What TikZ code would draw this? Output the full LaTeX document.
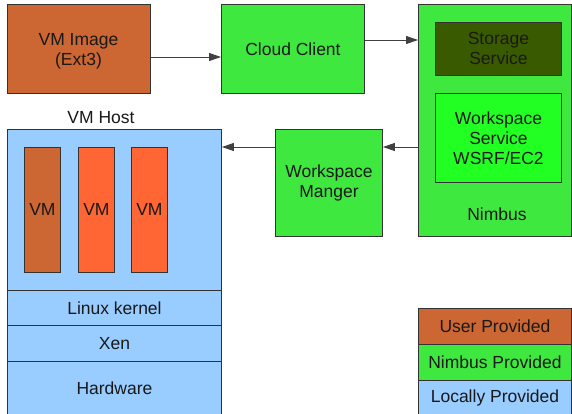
\documentclass[tikz,border=0pt]{standalone}
\usepackage{fontspec}
\setmainfont{Liberation Sans}
\usetikzlibrary{arrows.meta}
\definecolor{userc}{HTML}{CC6633}
\definecolor{vmc}{HTML}{FF6633}
\definecolor{nimc}{HTML}{3EE83E}
\definecolor{wsc}{HTML}{22FF22}
\definecolor{stc}{HTML}{3A5A00}
\definecolor{locc}{HTML}{99CCFF}
\definecolor{edgec}{HTML}{333333}
\begin{document}
\begin{tikzpicture}[x=1pt,y=-1pt,
  box/.style={draw=edgec, line width=0.9pt, anchor=north west, inner sep=0pt, align=center,
    font=\fontsize{17.5}{20}\selectfont, text=black!90},
  arr/.style={draw=black!75, line width=0.9pt, -{Triangle[length=12pt,width=8pt]}},
  txt/.style={font=\fontsize{17.5}{20}\selectfont, text=black!90, inner sep=0pt}]
\useasboundingbox (0,0) rectangle (572,413);
\node[box, fill=userc, minimum width=143pt, minimum height=89pt] (vmimage) at (7,4) {};
\node[txt, align=center] (vmimagetext) at (78.5,51) {VM Image\\(Ext3)};
\node[box, fill=nimc, minimum width=143pt, minimum height=89pt] (cloud) at (221,4) {Cloud Client};
\node[box, fill=nimc, minimum width=153pt, minimum height=232pt] (nimbus) at (418,4) {};
\node[box, fill=stc, minimum width=126pt, minimum height=53pt] (storage) at (435,22) {Storage\\Service};
\node[box, fill=wsc, minimum width=126pt, minimum height=89pt] (wss) at (435,93) {Workspace\\Service\\WSRF/EC2};
\node[txt] (nimbuslabel) at (497,214) {Nimbus};
\node[box, fill=nimc, minimum width=107pt, minimum height=107pt] (wsm) at (275,129) {Workspace\\Manger};
\node[box, fill=locc, minimum width=214pt, minimum height=161pt] (host) at (7,129) {};
\node[txt] (hostlabel) at (101,118) {VM Host};
\node[box, fill=userc, minimum width=36pt, minimum height=125pt] (vm1) at (24,147) {VM};
\node[box, fill=vmc, minimum width=36pt, minimum height=125pt] (vm2) at (78,147) {VM};
\node[box, fill=vmc, minimum width=36pt, minimum height=125pt] (vm3) at (131,147) {VM};
\node[box, fill=locc, minimum width=214pt, minimum height=35pt] (linux) at (7,290) {Linux kernel};
\node[box, fill=locc, minimum width=214pt, minimum height=36pt] (xen) at (7,325) {Xen};
\node[box, fill=locc, minimum width=214pt, minimum height=54pt] (hw) at (7,361) {Hardware};
\node[box, fill=userc, minimum width=153pt, minimum height=36pt] (leguser) at (418,308) {User Provided};
\node[box, fill=nimc, minimum width=153pt, minimum height=36pt] (legnim) at (418,344) {Nimbus Provided};
\node[box, fill=locc, minimum width=153pt, minimum height=40pt] (legloc) at (418,380) {};
\node[txt] (legloctext) at (495,398) {Locally Provided};
\draw[arr] (vmimage.east |- 0,57) -- (cloud.west |- 0,57);
\draw[arr] (cloud.east |- 0,40) -- (nimbus.west |- 0,40);
\draw[arr] (nimbus.west |- 0,147) -- (wsm.east |- 0,147);
\draw[arr] (wsm.west |- 0,147) -- (host.east |- 0,147);
\end{tikzpicture}
\end{document}
